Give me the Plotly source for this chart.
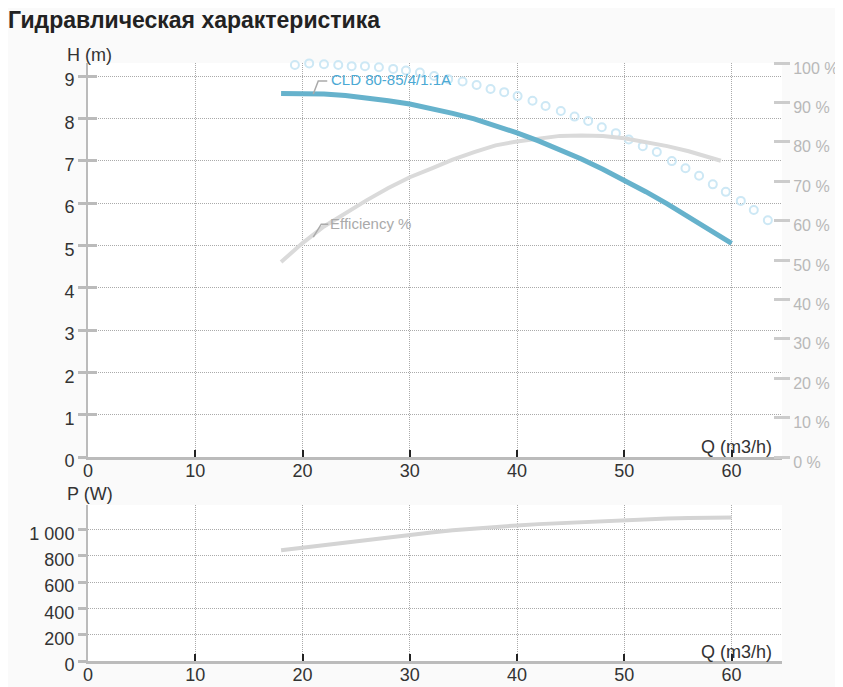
import plotly.graph_objects as go

# head curve H (m) vs flow Q (m3/h)
head_q = [18, 20, 22, 24, 26, 28, 30, 32, 34, 36, 38, 40, 42, 44, 46, 48, 50, 52, 54, 56, 58, 60]
head_h = [8.59, 8.59, 8.58, 8.54, 8.49, 8.42, 8.34, 8.24, 8.12, 7.99, 7.83, 7.66, 7.47, 7.26,
          7.04, 6.80, 6.54, 6.27, 5.98, 5.68, 5.37, 5.05]

# efficiency %
eff_q = [18, 20, 22, 24, 26, 28, 30, 32, 34, 36, 38, 40, 42, 44, 46, 48, 50, 52, 54, 56, 58, 59]
eff_pct = [49.5, 54.3, 58.5, 62.0, 65.2, 68.3, 71.0, 73.2, 75.5, 77.4, 79.1, 80.1, 80.9, 81.5,
           81.6, 81.5, 80.9, 80.0, 78.9, 77.6, 76.0, 75.2]

# open circles (right axis %)
dots_q = [19.29, 20.62, 22.0, 23.33, 24.58, 25.82, 27.12, 28.45, 29.64, 30.94, 32.27, 33.58,
          34.92, 36.23, 37.53, 38.8, 40.05, 41.44, 42.66, 44.08, 45.36, 46.63, 47.9, 49.21,
          50.42, 51.72, 53.03, 54.43, 55.7, 56.97, 58.25, 59.46, 60.86, 62.07, 63.38, 64.77]
dots_pct = [99.5, 99.9, 99.7, 99.5, 99.2, 99.2, 98.9, 98.5, 98.1, 97.6, 96.7, 95.9,
            95.3, 94.4, 93.4, 92.6, 91.6, 90.4, 89.1, 87.8, 86.4, 85.3, 83.7, 82.2,
            80.6, 78.9, 77.4, 75.1, 73.3, 71.4, 69.2, 67.3, 65.0, 62.7, 60.1, 57.9]

# power P (W)
pow_q = [18, 20, 22, 24, 26, 28, 30, 32, 34, 36, 38, 40, 42, 44, 46, 48, 50, 52, 54, 56, 58, 60]
pow_w = [843, 863, 883, 903, 922, 942, 962, 978, 994, 1008, 1020, 1031, 1041, 1049, 1057,
         1066, 1075, 1080, 1084, 1087, 1090, 1091]

x_ticks = [0, 10, 20, 30, 40, 50, 60]
h_ticks = [0, 1, 2, 3, 4, 5, 6, 7, 8, 9]
pct_ticks = [0, 10, 20, 30, 40, 50, 60, 70, 80, 90, 100]
pct_labels = ['%d %%' % v for v in pct_ticks]
p_ticks = [0, 200, 400, 600, 800, 1000]
p_labels = ['0', '200', '400', '600', '800', '1 000']

FONT = 'Liberation Sans, Arial, sans-serif'
DARK = '#333333'
AXIS = '#bbbbbb'
GRID = '#aaaaaa'
DOTS = '1px,1px'

fig = go.Figure()

fig.add_trace(go.Scatter(x=dots_q, y=dots_pct, xaxis='x', yaxis='y2', mode='markers',
                         marker=dict(symbol='circle-open', size=8, color='#cde8f5',
                                     line=dict(width=2, color='#cde8f5')),
                         cliponaxis=False, hoverinfo='skip'))
fig.add_trace(go.Scatter(x=eff_q, y=eff_pct, xaxis='x', yaxis='y2', mode='lines',
                         line=dict(color='#dadada', width=4)))
fig.add_trace(go.Scatter(x=head_q, y=head_h, xaxis='x', yaxis='y4', mode='lines',
                         line=dict(color='#66b2cc', width=5)))
fig.add_trace(go.Scatter(x=pow_q, y=pow_w, xaxis='x2', yaxis='y3', mode='lines',
                         line=dict(color='#d4d4d4', width=4)))

xcommon = dict(range=[0, 64.7], tickvals=x_ticks, ticks='inside', ticklen=7, tickwidth=2,
               tickcolor='#222222', showline=True, linecolor=AXIS, linewidth=3,
               showgrid=True, gridcolor=GRID, griddash=DOTS, gridwidth=1, zeroline=False,
               automargin=False, ticklabelstandoff=-5,
               tickfont=dict(family=FONT, size=18, color=DARK))
ycommon = dict(ticks='outside', ticklen=8, tickwidth=3, tickcolor=AXIS, showline=True,
               linecolor=AXIS, linewidth=2, showgrid=True, gridcolor=GRID, griddash=DOTS,
               gridwidth=1, zeroline=False, ticklabelshift=4, automargin=False,
               tickfont=dict(family=FONT, size=18, color=DARK))
yinner = dict(ticks='inside', ticklen=9, tickwidth=3, tickcolor=AXIS, showline=False,
              showgrid=False, zeroline=False, showticklabels=False, automargin=False)

# the page puts the figure 8 px in from the window corner
fig.update_layout(
    width=835, height=679,
    margin=dict(l=80, r=61, t=55, b=26),
    paper_bgcolor='#fafafa', plot_bgcolor='white',
    showlegend=False,
    title=dict(text='<b>Гидравлическая характеристика</b>', xref='container', yref='container',
               x=0, xanchor='left', y=1 - 12 / 679, yanchor='middle', pad=dict(l=0),
               font=dict(family=FONT, size=23, color='#222222')),
    xaxis=dict(domain=[0, 1], anchor='y', **xcommon),
    xaxis2=dict(domain=[0, 1], anchor='y3', **xcommon),
    yaxis=dict(domain=[0.3411, 1], range=[0, 9.31], tickvals=h_ticks, anchor='x', **ycommon),
    yaxis4=dict(overlaying='y', range=[0, 9.31], tickvals=h_ticks, anchor='x', **yinner),
    yaxis2=dict(overlaying='y', side='right', anchor='free', position=0.987, range=[0, 100],
                tickvals=pct_ticks, ticktext=pct_labels, ticks='outside', ticklen=16,
                tickwidth=3, tickcolor='#cccccc', showline=False, showgrid=False,
                zeroline=False, ticklabelshift=5, automargin=False,
                tickfont=dict(family=FONT, size=16, color='#b8b8b8')),
    yaxis3=dict(domain=[0, 0.261], range=[0, 1187], tickvals=p_ticks, ticktext=p_labels,
                anchor='x2', **ycommon),
    yaxis5=dict(overlaying='y3', range=[0, 1187], tickvals=p_ticks, anchor='x2', **yinner),
)

labels = [
    dict(text='H (m)', xref='paper', yref='paper', x=-0.0332, y=1.013, xanchor='left',
         yanchor='middle', font=dict(family=FONT, size=18, color=DARK)),
    dict(text='Q (m3/h)', xref='paper', yref='paper', x=0.9885, y=0.358, xanchor='right',
         yanchor='middle', font=dict(family=FONT, size=18, color=DARK)),
    dict(text='P (W)', xref='paper', yref='paper', x=-0.0332, y=0.279, xanchor='left',
         yanchor='middle', font=dict(family=FONT, size=18, color=DARK)),
    dict(text='Q (m3/h)', xref='paper', yref='paper', x=0.9885, y=0.015, xanchor='right',
         yanchor='middle', font=dict(family=FONT, size=18, color=DARK)),
    dict(text='CLD 80-85/4/1.1A', xref='x', yref='y', x=22.45, y=8.93, xanchor='left',
         yanchor='middle', font=dict(family=FONT, size=15, color='#4ba9d4')),
    dict(text='Efficiency %', xref='x', yref='y2', x=22.36, y=59.3, xanchor='left',
         yanchor='middle', font=dict(family=FONT, size=15, color='#aaaaaa')),
]
for a in labels:
    fig.add_annotation(showarrow=False, **a)

# leader lines from the curves to their labels
fig.add_shape(type='path', xref='x', yref='y', xsizemode='pixel', ysizemode='pixel',
              xanchor=21.0, yanchor=8.58, path='M0,0 L5,13 L14,13',
              line=dict(color='#aaaaaa', width=1.5))
fig.add_shape(type='path', xref='x', yref='y2', xsizemode='pixel', ysizemode='pixel',
              xanchor=21.0, yanchor=55.8, path='M0,0 L8,13 L15,13',
              line=dict(color='#aaaaaa', width=1.5))

fig.write_html('out.html')
